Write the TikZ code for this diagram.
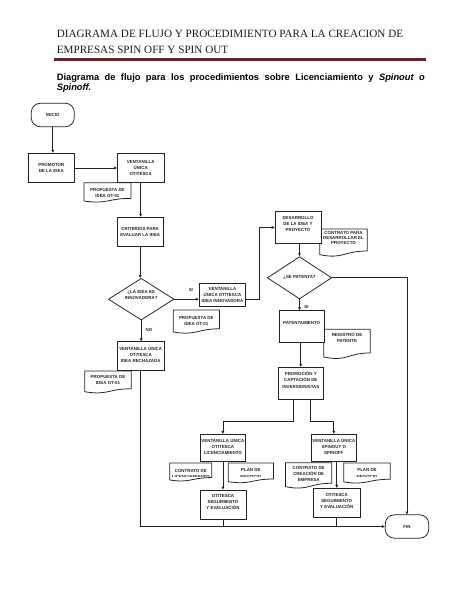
\documentclass[tikz,border=0pt]{standalone}
\usepackage{fontspec}
\setmainfont{Liberation Serif}
\setsansfont{Liberation Sans}
\usetikzlibrary{shapes.geometric,arrows.meta,calc}
\newcommand\PX[1]{#1*1.2911pt}
\newcommand\dn[1]{\rule[-#1]{0pt}{0pt}}
\definecolor{rulered}{RGB}{105,32,36}
\definecolor{ink}{RGB}{35,35,35}
% document shape: #1 node, #2 top above text centre (px), #3 height (px), #4 clip fraction (0 = none)
\newcommand\docshape[4]{%
  \coordinate (#1-tl) at ($(#1.west)+(0,-#2)$);
  \coordinate (#1-tr) at ($(#1.east)+(0,-#2)$);
  \coordinate (#1-r) at ($(#1-tr)+(0,0.8*#3)$);
  \coordinate (#1-l) at ($(#1-tl)+(0,0.934*#3)$);
  \coordinate (#1-c1) at ($(#1-tl)!0.5!(#1-tr)+(0,0.8*#3)$);
  \coordinate (#1-c2) at ($(#1-tl)!0.5!(#1-tr)+(0,1.107*#3)$);
  \ifdim#4pt>0pt
    \fill[white] ($(#1-tl)+(0,#4*#3)$) rectangle ($(#1-tr)+(0,1.15*#3)$);
  \fi
  \draw[docline] (#1-tl) -- (#1-tr) -- (#1-r) .. controls (#1-c1) and (#1-c2) .. (#1-l) -- cycle;
}
\begin{document}
\begin{tikzpicture}[x=1.2911pt,y=-1.2911pt,
  every node/.style={font=\sffamily\bfseries\fontsize{5.7}{7.8}\selectfont, align=center, inner sep=0pt, text=ink},
  box/.style n args={2}{draw=ink, line width=1pt, fill=white, rectangle, minimum width=\PX{#1}, minimum height=\PX{#2}},
  term/.style n args={2}{draw=ink, line width=1pt, fill=white, rectangle, rounded corners=\PX{9}, minimum width=\PX{#1}, minimum height=\PX{#2}},
  dec/.style n args={2}{draw=ink, line width=1pt, fill=white, diamond, aspect=1.55, minimum width=\PX{#1}, minimum height=\PX{#2}},
  docn/.style={rectangle, minimum width=\PX{#1}},
  docline/.style={draw=ink, line width=1pt},
  conn/.style={draw=ink, line width=1pt},
  arr/.style={conn, -{Triangle[length=3.8pt,width=3.4pt]}},
  lbl/.style={font=\sffamily\bfseries\fontsize{5.7}{7}\selectfont}
]
\useasboundingbox (0,0) rectangle (474,613);

% ---- heading ----
\node[anchor=base west, font=\rmfamily\mdseries\fontsize{14.4}{20}\selectfont, text=black!90] (t1) at (56.7,37.7) {DIAGRAMA DE FLUJO Y PROCEDIMIENTO PARA LA CREACION DE};
\node[anchor=base west, font=\rmfamily\mdseries\fontsize{14.4}{20}\selectfont, text=black!90] (t2) at (56.7,53.3) {EMPRESAS SPIN OFF Y SPIN OUT};
\draw[rulered, line width=\PX{2.8}] (54.3,59.3) -- (426,59.3);
\node[anchor=base west, font=\sffamily\bfseries\fontsize{12}{14}\selectfont, text=black] (s1) at (56.7,81) {\makebox[475pt][s]{Diagrama de flujo para los procedimientos sobre Licenciamiento y \textit{Spinout o}}};
\node[anchor=base west, font=\sffamily\bfseries\fontsize{12}{14}\selectfont, text=black] (s2) at (56.7,90.7) {\textit{Spinoff.}};

% ---- documents ----
\node[docn=46.7] (prop1) at (107.4,192.7) {PROPUESTA DE\\IDEA OT-01};
\docshape{prop1}{10}{19.6}{0}
\node[docn=46] (prop2) at (196.3,320.5) {PROPUESTA DE\\IDEA OT-01};
\docshape{prop2}{10.5}{23.5}{0}
\node[docn=46] (prop3) at (108,379.7) {PROPUESTA DE\\IDEA OT-01};
\docshape{prop3}{8.7}{22.2}{0}
\node[docn=47, font=\sffamily\bfseries\fontsize{5.7}{6.2}\selectfont] (cont1) at (343.5,237.8) {CONTRATO PARA\\DESARROLLAR EL\\PROYECTO};
\docshape{cont1}{8.8}{27.5}{0}
\node[docn=46] (reg) at (347,338) {REGISTRO DE\\PATENTE};
\docshape{reg}{8.7}{29.6}{0}
\node[docn=41.7] (contlic) at (190.8,473.5) {CONTRATO DE\\LICENCIAMIENTO};
\docshape{contlic}{10.5}{18.2}{0.76}
\node[docn=45] (plan1) at (250.8,473.5) {PLAN DE\\NEGOCIO};
\docshape{plan1}{10.5}{20}{0.7}
\node[docn=46] (contemp) at (308.7,474) {CONTRATO DE\\CREACIÓN DE\\EMPRESA};
\docshape{contemp}{11.3}{25.7}{0}
\node[docn=46] (plan2) at (367,473.5) {PLAN DE\\NEGOCIO};
\docshape{plan2}{10.5}{20.3}{0.69}

% ---- boxes ----
\node[term={43}{23.5}] (inicio) at (52.8,115) {INICIO};
\node[box={46}{29.4}] (promotor) at (51.3,168) {PROMOTOR\\DE LA IDEA};
\node[box={46.7}{29.4}] (vent1) at (140.7,168) {VENTANILLA\\ÚNICA\\OTITESCA};
\node[box={46}{29.4}] (crit) at (140.2,232) {CRITERIOS PARA\\EVALUAR LA IDEA};
\node[dec={65.7}{41.7}] (dec1) at (141.2,299.2) {¿LA IDEA ES\\INNOVADORA?\dn{12pt}};
\node[box={46.4}{23.4}] (ventinn) at (222.5,295) {VENTANILLA\\ÚNICA OTITESCA\\IDEA INNOVADORA};
\node[box={46.7}{28.3}] (rech) at (140.7,355.8) {VENTANILLA ÚNICA\\OTITESCA\\IDEA RECHAZADA\dn{4pt}};
\node[box={46}{31.6}] (desa) at (298,227.5) {DESARROLLO\\DE LA IDEA Y\\PROYECTO\dn{9pt}};
\node[dec={64.4}{42.3}] (dec2) at (299.5,277.8) {¿SE PATENTA?};
\node[box={45.3}{32}] (pat) at (301.7,326.7) {PATENTAMIENTO\dn{10.3pt}};
\node[box={45}{32}] (promo) at (300.8,383.3) {PROMOCIÓN Y\\CAPTACIÓN DE\\INVERSIONISTAS\dn{8.5pt}};
\node[box={45.7}{27.4}] (ventlic) at (222.9,448) {VENTANILLA ÚNICA\\OTITESCA\\LICENCIAMIENTO\dn{3.4pt}};
\node[box={46}{29}] (otis1) at (223,504.5) {OTITESCA\\SEGUIMIENTO\\Y EVALUACIÓN\dn{6.5pt}};
\node[box={45.7}{27.4}] (ventspin) at (333.8,448) {VENTANILLA ÚNICA\\SPINOUT O\\SPINOFF\dn{3pt}};
\node[box={46.7}{29}] (otis2) at (336.7,502.8) {OTITESCA\\SEGUIMIENTO\\Y EVALUACIÓN\dn{5pt}};
\node[term={43.5}{23.3}] (fin) at (407,526.5) {FIN};

% ---- connectors ----
\coordinate (j1) at (259.3,299.2);
\draw[arr] (inicio.south) -- (inicio.south |- promotor.north);
\draw[arr] (promotor.east) -- (promotor.east -| vent1.west);
\draw[arr] (vent1.south) -- (vent1.south |- crit.north);
\draw[arr] (crit.south) -- (crit.south |- dec1.north);
\draw[arr] (dec1.east) -- (dec1.east -| ventinn.west) node[lbl, pos=0.67, above=\PX{7}] (si1) {SI};
\draw[arr] (dec1.south) -- (dec1.south |- rech.north) node[lbl, pos=0.45, right=\PX{4}] (no1) {NO};
\draw[arr] (ventinn.east |- j1) -- (j1) |- (desa.west);
\draw[arr] (dec2.north |- desa.south) -- (dec2.north);
\draw[arr] (dec2.south) -- (dec2.south |- pat.north) node[lbl, pos=0.71, right=\PX{4.5}] (si2) {SI};
\draw[arr] (dec2.east) -- (dec2.east -| fin.north) -- (fin.north);
\draw[arr] (promo.north |- pat.south) -- (promo.north);
\draw[arr] ([xshift=-\PX{7.5}]promo.south) -- ++(0,21.4) -| (ventlic.north);
\draw[arr] ([xshift=\PX{9.9}]promo.south) -- ++(0,21.4) -| (ventspin.north);
\draw[arr] (ventlic.south) -- (ventlic.south |- otis1.north);
\draw[arr] (ventspin.south -| otis2.north) -- (otis2.north);
\draw[arr] (rech.south) -- (rech.south |- fin.west) -- (fin.west);
\draw[conn] (otis1.south) -- (otis1.south |- fin.west);
\draw[conn] (otis2.south) -- (otis2.south |- fin.west);
\end{tikzpicture}
\end{document}
